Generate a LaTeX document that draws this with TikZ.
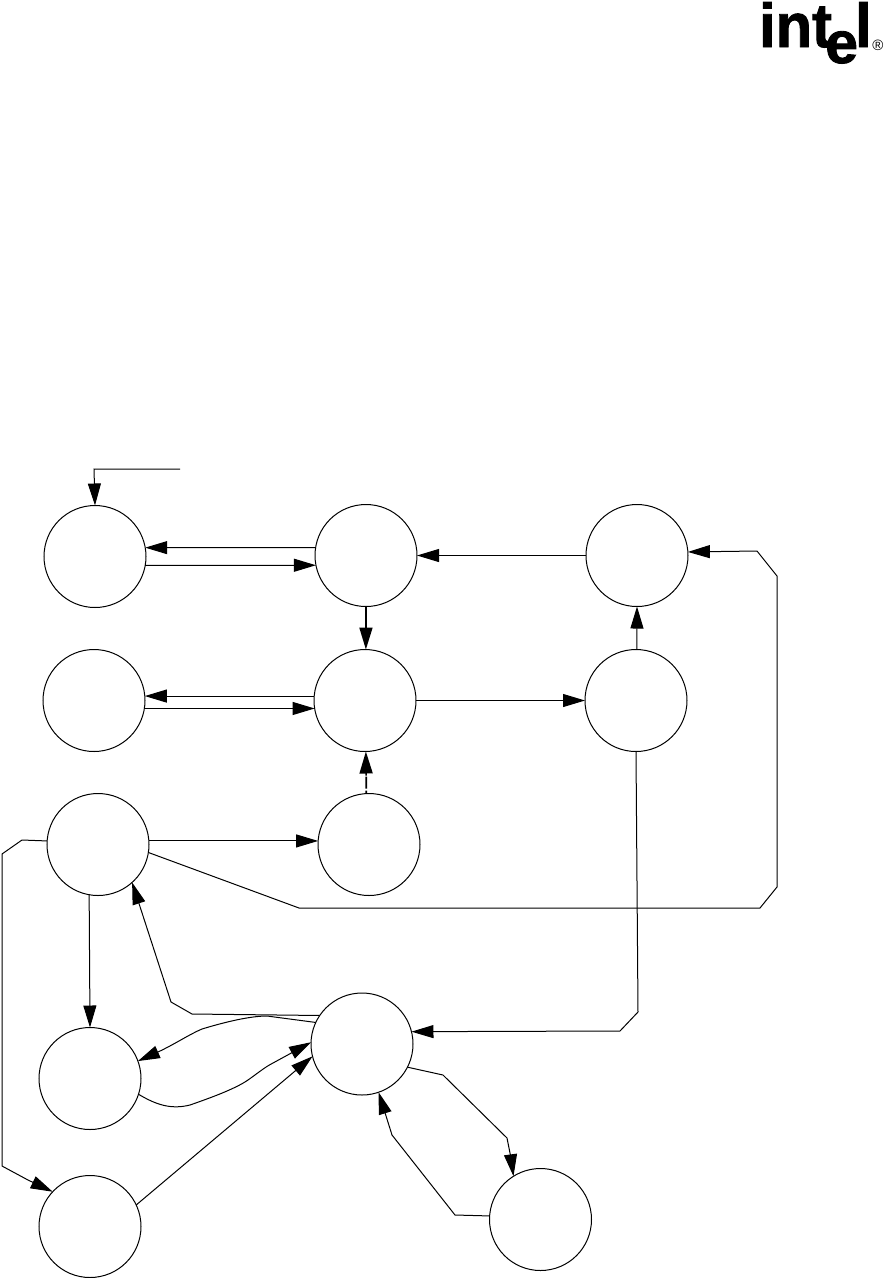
\documentclass[tikz,border=0pt]{standalone}
\usepackage{fontspec}
\setmainfont{Liberation Sans}
\newfontfamily\logofont[FakeBold=1.5]{Liberation Sans Bold}
\usetikzlibrary{arrows.meta}
\tikzset{
    state/.style={draw, circle, minimum size=102pt, inner sep=0pt, outer sep=0pt, line width=1pt},
    edge/.style={draw, line width=1pt, -{Triangle[length=22pt,width=13pt]}},
    heavy/.style={edge, line width=1.7pt},
    logo/.style={inner sep=0pt, anchor=base west, font=\logofont\fontsize{62}{62}\selectfont, transform shape}
}
\begin{document}
\begin{tikzpicture}[x=1pt, y=-1pt]
    \useasboundingbox (0,0) rectangle (884,1278);
    % logo
    \begin{scope}[xscale=0.96]
        \node[logo] (logoint) at (790.6,47) {int};
        \node[logo] (logol) at (890.6,47) {l};
    \end{scope}
    \node[logo, font=\logofont\fontsize{59}{59}\selectfont] (logoe) at (825,63) {e};
    \node[inner sep=0pt, font=\fontsize{15}{15}\selectfont] (logor) at (878,45) {®};
    % states
    \foreach \name/\x/\y in {n1/95/556.5, n2/366/555.5, n3/637/555.5, n4/94/700.5, n5/365/700.5, n6/636/700.5,
        n7/98/844.5, n8/369/844.5, n9/362/1044, n10/90/1078.5, n11/90/1226.5, n12/540.5/1219.5} {
        \node[state] (\name) at (\x,\y) {};
    }
    \coordinate (start) at (180,469);
    \draw[edge] (start) -- (94,469) -- (n1.north);
    % top rows
    \draw[edge] (n2.171) -- (n1.10);
    \draw[edge] (n1.-10) -- (n2.-169);
    \draw[edge] (n3.west) -- (n2.east);
    \draw[heavy] (n2.south) -- (n5.89);
    \draw[edge] (n5.175) -- (n4.5);
    \draw[edge] (n4.-9) -- (n5.-171);
    \draw[edge] (n5.east) -- (n6.west);
    \draw[edge] (n6.89) -- (n3.south);
    \draw[heavy, dash pattern=on 3pt off 2pt on 12pt off 1pt on 40pt] (n8.93) -- (n5.-89);
    % third state
    \draw[edge] (n7.4) -- (n8.176);
    \draw[edge] (n7.-9) -- (299,908) -- (760,908) -- (777,887) -- (777,576) -- (757,551) -- (n3.4);
    \draw[edge] (n7.-100) -- (n10.north);
    \draw[edge] (n7.176) -- (22,840) -- (2,854) -- (2,1166) -- (28,1180) -- (n11.137);
    % lower states
    \draw[edge] (n9.146) -- (192,1014) -- (171,1002) -- (n7.-48);
    \draw[edge] (n9.155) -- (267,1016) .. controls (250,1016) and (225,1022) .. (202,1029) .. controls (190,1034) and (175,1044) .. (158,1052) -- (n10.20);
    \draw[edge] (n10.-18) .. controls (155,1104) and (170,1110) .. (190,1105) .. controls (210,1098) and (235,1089) .. (248,1080) .. controls (258,1073) and (265,1067) .. (273,1063) -- (n9.178);
    \draw[edge] (n11.25) -- (n9.194);
    \draw[edge] (n6.-90) -- (638,1012) -- (620,1031) -- (n9.14);
    \draw[edge] (n9.-27) -- (443,1075) -- (507,1138) -- (511,1158) -- (n12.122);
    \draw[edge] (n12.176) -- (455,1215) -- (392,1135) -- (n9.-71);
\end{tikzpicture}
\end{document}
